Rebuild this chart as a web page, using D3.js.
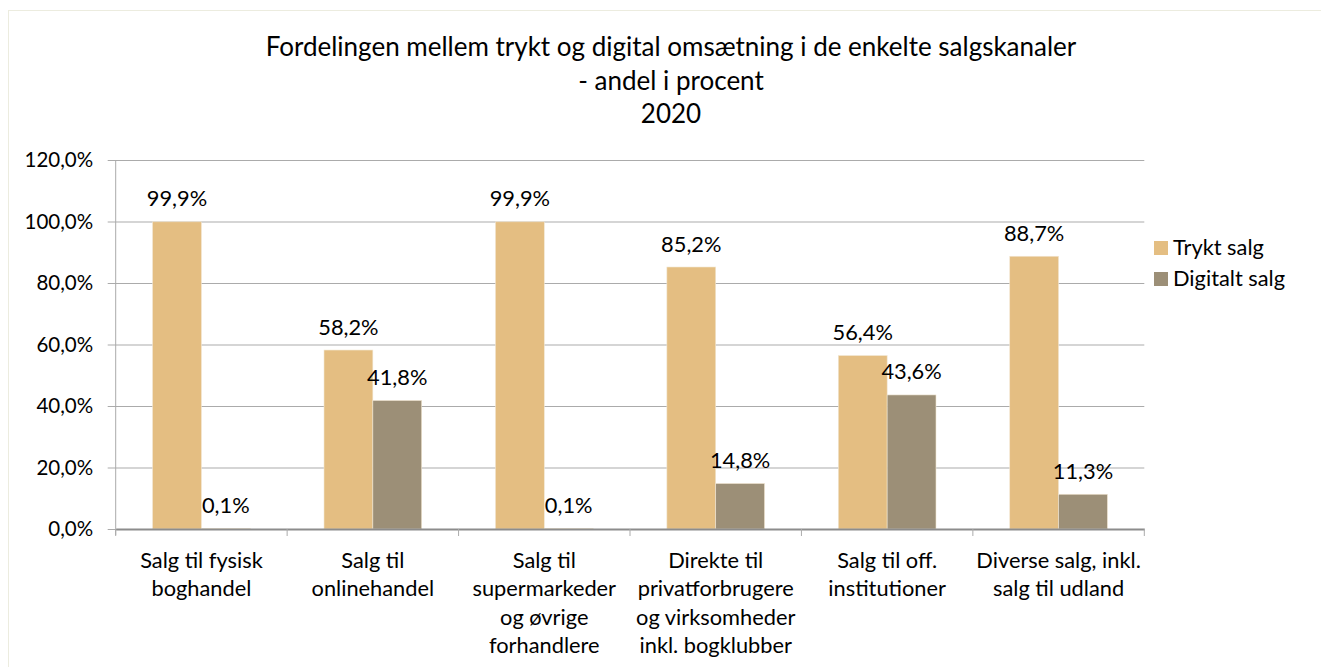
<!DOCTYPE html>
<html lang="da">
<head>
  <meta charset="UTF-8">
  <title>Trykt og digital omsætning 2020</title>
  <script src="https://d3js.org/d3.v7.min.js"></script>
  <style>
    body { margin:0; background:#fff; }
    svg { display:block; font-family: Lato, "Noto Sans", sans-serif; }
  </style>
</head>
<body>
  <svg width="1321" height="667"></svg>
  <script>
    // categories (line breaks as in the original axis labels)
    const categories = [
      ['Salg til fysisk', 'boghandel'],
      ['Salg til', 'onlinehandel'],
      ['Salg til', 'supermarkeder', 'og øvrige', 'forhandlere'],
      ['Direkte til', 'privatforbrugere', 'og virksomheder', 'inkl. bogklubber'],
      ['Salg til off.', 'institutioner'],
      ['Diverse salg, inkl.', 'salg til udland']
    ]
    const series = ['Trykt salg', 'Digitalt salg']
    const trykt = [0.999, 0.582, 0.999, 0.852, 0.564, 0.887]
    const digitalt = [0.001, 0.418, 0.001, 0.148, 0.436, 0.113]
    const yTicks = [0, 0.2, 0.4, 0.6, 0.8, 1.0, 1.2]
    const titleLines = ['Fordelingen mellem trykt og digital omsætning i de enkelte salgskanaler', '- andel i procent', '2020']
    const colors = ['#E4BE82', '#9C8F77']

    const svg = d3.select('svg')
    const plot = {left: 115.7, right: 1144.3, top: 160, bottom: 529}
    const fmt = v => d3.format('.1%')(v).replace('.', ',')
    const fs = 21.8 // labels, values, legend

    // chart frame
    svg.append('rect')
      .attr('x', 8.5).attr('y', 10.5)
      .attr('width', 1330).attr('height', 680)
      .attr('fill', 'none').attr('stroke', '#ECECDF')

    const keys = categories.map((d, i) => i)
    const x = d3.scaleBand().domain(keys).range([plot.left, plot.right]).padding(0)
    const xSub = d3.scaleBand().domain(series).range([0, x.bandwidth()])
      .paddingInner(0).paddingOuter(0.755)
    const y = d3.scaleLinear().domain([0, 1.2]).range([plot.bottom, plot.top])

    // gridlines + y axis
    const yAxis = d3.axisLeft(y).tickValues(yTicks).tickFormat(fmt)
      .tickSize(-(plot.right - plot.left)).tickPadding(22.5)
    const gy = svg.append('g').attr('transform', `translate(${plot.left},0)`).call(yAxis)
    gy.select('.domain').remove()
    gy.selectAll('.tick line').attr('stroke', '#ABABAB').attr('x1', -8)
    gy.selectAll('.tick text').attr('font-size', 20.5).attr('fill', '#000')
      .attr('font-family', 'Lato, sans-serif')
    svg.append('line')
      .attr('x1', plot.left).attr('x2', plot.left)
      .attr('y1', plot.top).attr('y2', plot.bottom + 6)
      .attr('stroke', '#ABABAB')

    // bars
    const rows = keys.map(i => ({i, values: [trykt[i], digitalt[i]]}))
    const groups = svg.selectAll('g.cat').data(rows).enter().append('g')
      .attr('class', 'cat')
      .attr('transform', d => `translate(${x(d.i)},0)`)
    groups.selectAll('rect').data(d => d.values.map((v, k) => ({k, v})))
      .enter().append('rect')
      .attr('x', d => xSub(series[d.k]))
      .attr('width', xSub.bandwidth())
      .attr('y', d => y(d.v))
      .attr('height', d => y(0) - y(d.v))
      .attr('fill', d => colors[d.k])
      .attr('stroke', '#F2E7D3').attr('stroke-width', 0.6)
    groups.selectAll('text.val').data(d => d.values.map((v, k) => ({k, v})))
      .enter().append('text')
      .attr('class', 'val')
      .attr('x', d => xSub(series[d.k]) + xSub.bandwidth() / 2)
      .attr('y', d => y(d.v) - 15.5)
      .attr('text-anchor', 'middle')
      .attr('font-size', fs)
      .text(d => fmt(d.v))

    // x axis
    const xAxis = d3.axisBottom(x).tickValues([]).tickSizeOuter(0)
    const gx = svg.append('g').attr('transform', `translate(0,${plot.bottom})`).call(xAxis)
    gx.select('.domain').attr('stroke', '#8C8C8C').attr('stroke-width', 2)
    const bounds = keys.map(i => x(i)).concat([plot.right])
    svg.selectAll('line.xtick').data(bounds).enter().append('line')
      .attr('class', 'xtick')
      .attr('x1', d => d).attr('x2', d => d)
      .attr('y1', plot.bottom).attr('y2', plot.bottom + 7)
      .attr('stroke', '#ABABAB')
    const labels = svg.selectAll('text.cat').data(rows).enter().append('text')
      .attr('class', 'cat')
      .attr('text-anchor', 'middle')
      .attr('font-size', fs)
      .attr('x', d => x(d.i) + x.bandwidth() / 2)
      .attr('y', 568)
    labels.selectAll('tspan').data(d => categories[d.i]).enter().append('tspan')
      .attr('x', function () { return d3.select(this.parentNode).attr('x') })
      .attr('dy', (d, j) => j === 0 ? 0 : 28.3)
      .text(d => d)

    // title
    svg.append('text')
      .attr('text-anchor', 'middle')
      .attr('font-size', 26)
      .attr('y', 56)
      .selectAll('tspan').data(titleLines).enter().append('tspan')
      .attr('x', 671).attr('dy', (d, j) => j === 0 ? 0 : 33.5)
      .text(d => d)

    // legend
    const legend = svg.selectAll('g.leg').data(series).enter().append('g')
      .attr('class', 'leg')
      .attr('transform', (d, k) => `translate(1154,${241 + k * 31})`)
    legend.append('rect').attr('width', 14).attr('height', 14)
      .attr('fill', (d, k) => colors[k])
    legend.append('text').attr('x', 19).attr('y', 13.5)
      .attr('font-size', fs).text(d => d)
  </script>
</body>
</html>
